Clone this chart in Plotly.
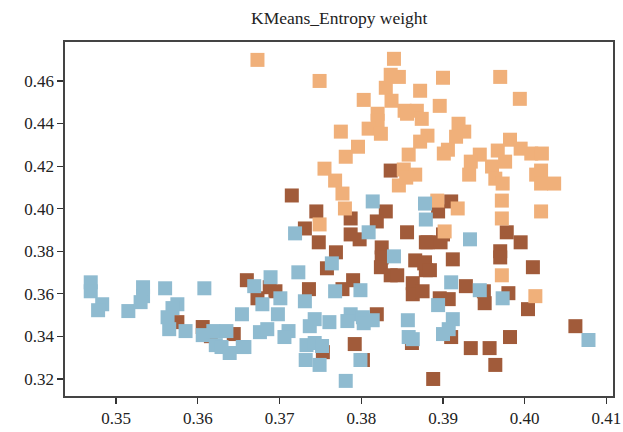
import plotly.graph_objects as go

# Cluster: orange
orange_x = [0.3673, 0.3840, 0.3749, 0.3836, 0.3846, 0.3830, 0.3872, 0.3803, 0.3837, 0.3853,
            0.3868, 0.3856, 0.3874, 0.3820, 0.3820, 0.3809, 0.3824, 0.3881, 0.3872, 0.3775,
            0.3796, 0.3781, 0.3858, 0.3755, 0.3768, 0.3852, 0.3866, 0.3846, 0.3855, 0.3777,
            0.3780, 0.3749, 0.3900, 0.3970, 0.3994, 0.3896, 0.3919, 0.3926, 0.3916, 0.3906,
            0.3901, 0.3982, 0.3995, 0.4008, 0.4021, 0.3945, 0.3967, 0.3976, 0.3934, 0.3960,
            0.3932, 0.3964, 0.3973, 0.4020, 0.4014, 0.4036, 0.4020, 0.3972, 0.3918, 0.4020,
            0.3972, 0.3893, 0.3902, 0.3972, 0.4013]
orange_y = [0.4699, 0.4704, 0.4600, 0.4629, 0.4619, 0.4568, 0.4554, 0.4511, 0.4507, 0.4460,
            0.4460, 0.4446, 0.4422, 0.4446, 0.4413, 0.4376, 0.4352, 0.4343, 0.4315, 0.4362,
            0.4291, 0.4244, 0.4254, 0.4188, 0.4132, 0.4184, 0.4160, 0.4109, 0.4146, 0.4071,
            0.4001, 0.3926, 0.4615, 0.4619, 0.4516, 0.4483, 0.4399, 0.4362, 0.4338, 0.4277,
            0.4259, 0.4324, 0.4282, 0.4259, 0.4259, 0.4254, 0.4273, 0.4221, 0.4221, 0.4198,
            0.4160, 0.4141, 0.4118, 0.4179, 0.4160, 0.4118, 0.4118, 0.4038, 0.4001, 0.3987,
            0.3954, 0.4038, 0.3893, 0.3687, 0.3589]

# Cluster: brown
brown_x = [0.3836, 0.3715, 0.3745, 0.3830, 0.3787, 0.3819, 0.3910, 0.3894, 0.3731, 0.3748,
           0.3798, 0.3787, 0.3769, 0.3758, 0.3825, 0.3825, 0.3824, 0.3836, 0.3844, 0.3856,
           0.3879, 0.3866, 0.3877, 0.3879, 0.3863, 0.3863, 0.3875, 0.3660, 0.3688, 0.3695,
           0.3673, 0.3736, 0.3790, 0.3777, 0.3819, 0.3792, 0.3753, 0.3802, 0.3862, 0.3888,
           0.3900, 0.3881, 0.3897, 0.3912, 0.3878, 0.3884, 0.3978, 0.3995, 0.3970, 0.3970,
           0.4010, 0.3928, 0.3950, 0.3951, 0.3980, 0.3896, 0.3907, 0.4004, 0.4062, 0.3982,
           0.3910, 0.3934, 0.3957, 0.3964, 0.3575, 0.3606, 0.3616, 0.3644]
brown_y = [0.4179, 0.4062, 0.3987, 0.3987, 0.3954, 0.3940, 0.4034, 0.3987, 0.3907, 0.3842,
           0.3856, 0.3879, 0.3795, 0.3720, 0.3818, 0.3771, 0.3725, 0.3687, 0.3687, 0.3889,
           0.3842, 0.3757, 0.3743, 0.3711, 0.3650, 0.3598, 0.3612, 0.3664, 0.3631, 0.3612,
           0.3579, 0.3622, 0.3664, 0.3622, 0.3504, 0.3364, 0.3326, 0.3289, 0.3369, 0.3200,
           0.3879, 0.3842, 0.3842, 0.3762, 0.3748, 0.3711, 0.3889, 0.3842, 0.3800, 0.3771,
           0.3725, 0.3636, 0.3612, 0.3556, 0.3603, 0.3579, 0.3575, 0.3528, 0.3448, 0.3397,
           0.3397, 0.3345, 0.3345, 0.3266, 0.3467, 0.3444, 0.3401, 0.3411]

# Cluster: blue
blue_x = [0.3814, 0.3878, 0.3879, 0.3719, 0.3809, 0.3840, 0.3764, 0.3723, 0.3689, 0.3669,
          0.3701, 0.3679, 0.3731, 0.3768, 0.3799, 0.3654, 0.3698, 0.3743, 0.3737, 0.3761,
          0.3787, 0.3783, 0.3802, 0.3803, 0.3814, 0.3857, 0.3676, 0.3685, 0.3711, 0.3706,
          0.3733, 0.3743, 0.3752, 0.3732, 0.3749, 0.3799, 0.3858, 0.3863, 0.3657, 0.3781,
          0.3469, 0.3469, 0.3483, 0.3478, 0.3515, 0.3533, 0.3533, 0.3530, 0.3560, 0.3608,
          0.3575, 0.3569, 0.3563, 0.3565, 0.3585, 0.3606, 0.3619, 0.3635, 0.3622, 0.3629,
          0.3639, 0.3655, 0.3933, 0.3910, 0.3945, 0.3973, 0.3894, 0.3912, 0.3907, 0.3900,
          0.4078]
blue_y = [0.4034, 0.4024, 0.3949, 0.3884, 0.3889, 0.3776, 0.3743, 0.3701, 0.3678, 0.3636,
          0.3579, 0.3551, 0.3565, 0.3612, 0.3617, 0.3504, 0.3504, 0.3481, 0.3448, 0.3467,
          0.3504, 0.3472, 0.3490, 0.3462, 0.3476, 0.3476, 0.3420, 0.3434, 0.3425, 0.3397,
          0.3359, 0.3369, 0.3355, 0.3289, 0.3266, 0.3289, 0.3397, 0.3387, 0.3350, 0.3191,
          0.3654, 0.3612, 0.3551, 0.3523, 0.3519, 0.3631, 0.3589, 0.3561, 0.3626, 0.3626,
          0.3551, 0.3533, 0.3490, 0.3434, 0.3425, 0.3406, 0.3425, 0.3425, 0.3359, 0.3350,
          0.3322, 0.3350, 0.3856, 0.3654, 0.3617, 0.3579, 0.3547, 0.3481, 0.3434, 0.3411,
          0.3383]

x_ticks = [0.35, 0.36, 0.37, 0.38, 0.39, 0.40, 0.41]
y_ticks = [0.32, 0.34, 0.36, 0.38, 0.40, 0.42, 0.44, 0.46]

FONT = "Liberation Serif"

fig = go.Figure()
for xs, ys, col in [(brown_x, brown_y, "#A15B3A"),
                    (orange_x, orange_y, "#F0B07A"),
                    (blue_x, blue_y, "#8FBBD0")]:
    fig.add_trace(go.Scatter(x=xs, y=ys, mode="markers",
                             marker=dict(symbol="square", size=14, color=col,
                                         line=dict(width=0)),
                             showlegend=False, hoverinfo="skip"))

axis_common = dict(showgrid=False, zeroline=False, showline=True, mirror=True,
                   automargin=False,
                   linecolor="#444444", linewidth=1.6, ticks="outside", ticklen=6,
                   tickwidth=1.2, tickcolor="#333",
                   tickfont=dict(family=FONT, size=17, color="#222"))

fig.update_layout(
    template="none",
    width=623, height=432,
    margin=dict(l=65, r=10, t=42, b=36, pad=0),
    paper_bgcolor="white", plot_bgcolor="white",
    hovermode=False,
    xaxis=dict(range=[0.34375, 0.4108], tickvals=x_ticks,
               ticktext=[f"{v:.2f}" for v in x_ticks], ticklabeloverflow="allow",
               **axis_common),
    yaxis=dict(range=[0.312, 0.4783], tickvals=y_ticks,
               ticktext=[f"{v:.2f}" for v in y_ticks], **axis_common),
    annotations=[dict(text="KMeans_Entropy weight", xref="paper", yref="paper",
                      x=0.5, y=1 + 24 / 354, xanchor="center", yanchor="middle",
                      showarrow=False,
                      font=dict(family=FONT, size=17.5, color="#222"))],
)

fig.write_html(
    "out.html",
    config={"displayModeBar": False, "staticPlot": True},
    post_script="document.body.style.margin='0';document.body.style.overflow='hidden';",
)
